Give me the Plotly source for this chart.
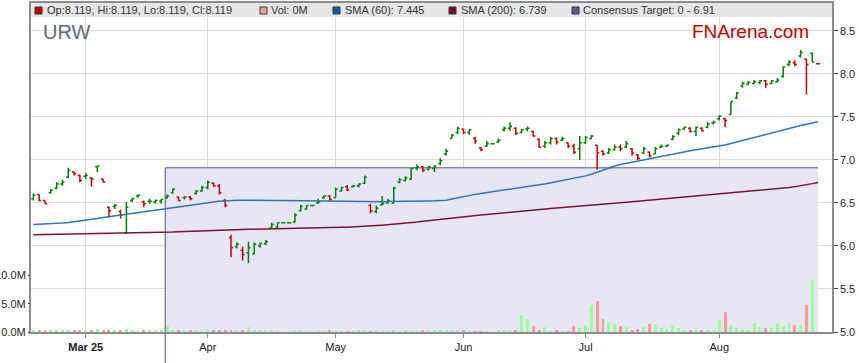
import plotly.graph_objects as go
import pandas as pd

# ---------------- data ----------------
dates = list(pd.bdate_range("2025-02-18", "2025-08-26"))  # weekday sessions shown

opens = [6.55, 6.60, 6.53, 6.62, 6.67, 6.72, 6.80, 6.86, 6.82, 6.81,
         6.79, 6.92, 6.78, 6.45, 6.46, 6.40, 6.15, 6.53, 6.58, 6.51,
         6.52, 6.51, 6.52, 6.56, 6.62, 6.57, 6.56, 6.57, 6.61, 6.64,
         6.68, 6.73, 6.70, 6.53, 6.10, 5.99, 5.95, 5.92, 5.91, 6.00,
         6.03, 6.21, 6.22, 6.27, 6.27, 6.28, 6.41, 6.43, 6.47, 6.50,
         6.56, 6.58, 6.56, 6.64, 6.69, 6.69, 6.70, 6.73, 6.47, 6.40,
         6.48, 6.50, 6.50, 6.74, 6.76, 6.78, 6.91, 6.92, 6.89, 6.90,
         6.96, 7.07, 7.25, 7.32, 7.36, 7.32, 7.25, 7.14, 7.16, 7.19,
         7.21, 7.35, 7.37, 7.37, 7.32, 7.36, 7.33, 7.24, 7.16, 7.20,
         7.25, 7.23, 7.20, 7.16, 7.13, 7.20, 7.25, 7.17, 7.10, 7.08,
         7.12, 7.15, 7.15, 7.13, 7.06, 7.08, 7.09, 7.07, 7.15, 7.16,
         7.24, 7.31, 7.36, 7.37, 7.33, 7.37, 7.38, 7.43, 7.48, 7.48,
         7.53, 7.72, 7.86, 7.88, 7.89, 7.90, 7.92, 7.89, 7.91, 7.97,
         8.11, 8.13, 8.21, 8.17, 8.24, 8.119]

highs = [6.61, 6.60, 6.53, 6.66, 6.74, 6.77, 6.91, 6.87, 6.83, 6.85,
         6.80, 6.93, 6.78, 6.46, 6.49, 6.42, 6.51, 6.56, 6.60, 6.53,
         6.55, 6.54, 6.55, 6.60, 6.67, 6.57, 6.58, 6.58, 6.65, 6.70,
         6.76, 6.74, 6.72, 6.55, 6.13, 6.04, 5.99, 6.05, 6.04, 6.04,
         6.07, 6.27, 6.27, 6.27, 6.27, 6.38, 6.48, 6.47, 6.47, 6.55,
         6.59, 6.59, 6.68, 6.69, 6.71, 6.71, 6.73, 6.82, 6.49, 6.47,
         6.58, 6.55, 6.69, 6.79, 6.81, 6.91, 6.95, 6.93, 6.93, 6.94,
         7.02, 7.13, 7.30, 7.39, 7.36, 7.36, 7.27, 7.15, 7.22, 7.19,
         7.25, 7.39, 7.44, 7.38, 7.36, 7.39, 7.34, 7.25, 7.22, 7.27,
         7.26, 7.27, 7.20, 7.19, 7.28, 7.28, 7.29, 7.17, 7.11, 7.14,
         7.18, 7.18, 7.22, 7.14, 7.07, 7.15, 7.10, 7.15, 7.18, 7.18,
         7.29, 7.37, 7.39, 7.38, 7.39, 7.38, 7.44, 7.46, 7.52, 7.49,
         7.68, 7.79, 7.91, 7.92, 7.93, 7.93, 7.93, 7.93, 7.95, 8.09,
         8.16, 8.16, 8.28, 8.18, 8.25, 8.119]

lows = [6.53, 6.52, 6.49, 6.61, 6.66, 6.70, 6.79, 6.82, 6.74, 6.78,
        6.69, 6.86, 6.74, 6.33, 6.43, 6.32, 6.14, 6.51, 6.56, 6.45,
        6.49, 6.49, 6.49, 6.55, 6.61, 6.52, 6.54, 6.53, 6.60, 6.63,
        6.66, 6.69, 6.60, 6.45, 5.87, 5.97, 5.83, 5.80, 5.90, 5.98,
        6.01, 6.21, 6.21, 6.27, 6.27, 6.27, 6.40, 6.42, 6.47, 6.49,
        6.55, 6.53, 6.56, 6.63, 6.64, 6.68, 6.68, 6.72, 6.38, 6.38,
        6.47, 6.49, 6.49, 6.73, 6.75, 6.77, 6.88, 6.86, 6.88, 6.86,
        6.94, 7.05, 7.25, 7.30, 7.30, 7.29, 7.19, 7.10, 7.15, 7.19,
        7.20, 7.33, 7.34, 7.29, 7.31, 7.33, 7.27, 7.14, 7.14, 7.18,
        7.18, 7.22, 7.14, 7.07, 7.00, 7.19, 7.24, 6.89, 7.05, 7.07,
        7.11, 7.10, 7.14, 7.05, 7.00, 7.07, 7.03, 7.07, 7.14, 7.15,
        7.23, 7.29, 7.35, 7.32, 7.28, 7.33, 7.37, 7.41, 7.46, 7.38,
        7.53, 7.71, 7.84, 7.87, 7.88, 7.88, 7.84, 7.88, 7.90, 7.96,
        8.09, 8.09, 8.19, 7.76, 8.14, 8.119]

closes = [6.59, 6.53, 6.49, 6.65, 6.72, 6.74, 6.88, 6.84, 6.76, 6.82,
          6.78, 6.93, 6.74, 6.41, 6.47, 6.36, 6.45, 6.55, 6.59, 6.49,
          6.52, 6.53, 6.54, 6.58, 6.66, 6.53, 6.57, 6.55, 6.64, 6.68,
          6.74, 6.70, 6.62, 6.47, 5.98, 6.02, 5.90, 5.98, 6.02, 6.03,
          6.05, 6.25, 6.27, 6.27, 6.27, 6.36, 6.46, 6.47, 6.47, 6.51,
          6.58, 6.54, 6.66, 6.68, 6.65, 6.70, 6.72, 6.80, 6.41, 6.44,
          6.49, 6.53, 6.67, 6.77, 6.79, 6.90, 6.92, 6.88, 6.92, 6.93,
          6.99, 7.10, 7.29, 7.37, 7.32, 7.35, 7.22, 7.12, 7.19, 7.19,
          7.23, 7.37, 7.39, 7.31, 7.35, 7.37, 7.28, 7.15, 7.20, 7.25,
          7.21, 7.25, 7.16, 7.09, 7.20, 7.26, 7.28, 7.08, 7.07, 7.12,
          7.15, 7.13, 7.19, 7.08, 7.02, 7.13, 7.05, 7.13, 7.16, 7.17,
          7.27, 7.35, 7.38, 7.33, 7.38, 7.34, 7.42, 7.44, 7.51, 7.46,
          7.68, 7.78, 7.89, 7.90, 7.91, 7.92, 7.88, 7.92, 7.93, 8.08,
          8.14, 8.11, 8.25, 8.11, 8.14, 8.119]

volumes_m = [0.18, 0.35, 0.18, 0.18, 0.18, 0.18, 0.35, 0.18, 0.35, 0.18,
             0.18, 0.53, 0.18, 0.18, 0.18, 0.35, 0.53, 0.35, 0.18, 0.18,
             0.18, 0.18, 0.18, 1.07, 0.18, 0.18, 0.18, 0.18, 0.18, 0.18,
             0.53, 0.18, 0.18, 0.18, 0.35, 0.35, 0.18, 0.83, 0.18, 0.18,
             0.18, 0.18, 0.10, 0.00, 0.00, 0.18, 0.18, 0.10, 0.00, 0.18,
             0.10, 0.18, 0.12, 0.10, 0.10, 0.10, 0.18, 0.18, 0.10, 0.18,
             0.10, 0.10, 0.18, 0.10, 0.18, 0.10, 0.18, 0.18, 0.18, 0.18,
             0.35, 0.18, 0.18, 0.35, 0.18, 0.12, 0.10, 0.10, 0.12, 0.00,
             0.30, 0.18, 0.18, 0.18, 3.00, 2.30, 1.07, 0.25, 0.90, 0.10,
             0.18, 0.10, 0.10, 1.07, 0.70, 1.20, 4.85, 5.44, 2.30, 1.83,
             1.42, 1.07, 0.95, 0.30, 0.47, 0.95, 1.42, 1.18, 0.65, 0.47,
             1.18, 0.65, 0.30, 0.30, 0.65, 0.30, 0.30, 0.30, 2.07, 3.55,
             1.18, 0.65, 0.47, 0.30, 1.54, 0.95, 0.65, 0.65, 1.54, 1.12,
             1.78, 1.24, 1.24, 4.79, 9.20, 0.00]

sma60 = [6.250, 6.252, 6.255, 6.258, 6.262, 6.266, 6.272, 6.280, 6.290, 6.300,
         6.310, 6.320, 6.330, 6.340, 6.350, 6.360, 6.370, 6.380, 6.390, 6.400,
         6.410, 6.420, 6.430, 6.440, 6.450, 6.458, 6.466, 6.474, 6.482, 6.492,
         6.502, 6.512, 6.520, 6.526, 6.530, 6.532, 6.533, 6.534, 6.534, 6.533,
         6.532, 6.531, 6.530, 6.530, 6.529, 6.528, 6.526, 6.524, 6.522, 6.520,
         6.518, 6.517, 6.516, 6.515, 6.515, 6.515, 6.515, 6.515, 6.515, 6.515,
         6.515, 6.516, 6.516, 6.517, 6.518, 6.519, 6.520, 6.521, 6.523, 6.525,
         6.528, 6.532, 6.545, 6.560, 6.575, 6.588, 6.600, 6.611, 6.622, 6.632,
         6.642, 6.652, 6.662, 6.672, 6.682, 6.692, 6.702, 6.712, 6.722, 6.735,
         6.748, 6.760, 6.772, 6.784, 6.798, 6.815, 6.835, 6.860, 6.885, 6.910,
         6.930, 6.948, 6.962, 6.975, 6.988, 7.000, 7.015, 7.030, 7.045, 7.060,
         7.072, 7.084, 7.096, 7.108, 7.118, 7.128, 7.138, 7.148, 7.160, 7.175,
         7.192, 7.210, 7.228, 7.246, 7.264, 7.282, 7.300, 7.318, 7.335, 7.352,
         7.368, 7.384, 7.400, 7.415, 7.430, 7.445]

sma200 = [6.130, 6.131, 6.132, 6.133, 6.134, 6.135, 6.136, 6.137, 6.138, 6.139,
          6.140, 6.141, 6.142, 6.143, 6.144, 6.145, 6.146, 6.148, 6.150, 6.152,
          6.154, 6.156, 6.158, 6.160, 6.163, 6.166, 6.169, 6.172, 6.175, 6.178,
          6.181, 6.184, 6.187, 6.189, 6.191, 6.192, 6.193, 6.194, 6.195, 6.196,
          6.197, 6.198, 6.199, 6.200, 6.201, 6.202, 6.203, 6.205, 6.207, 6.209,
          6.211, 6.213, 6.215, 6.217, 6.219, 6.221, 6.224, 6.228, 6.232, 6.237,
          6.242, 6.247, 6.252, 6.258, 6.265, 6.272, 6.280, 6.288, 6.296, 6.304,
          6.311, 6.318, 6.325, 6.332, 6.339, 6.346, 6.353, 6.360, 6.367, 6.374,
          6.381, 6.388, 6.395, 6.402, 6.409, 6.416, 6.421, 6.426, 6.431, 6.436,
          6.441, 6.446, 6.451, 6.456, 6.460, 6.466, 6.472, 6.478, 6.484, 6.490,
          6.496, 6.502, 6.508, 6.514, 6.520, 6.526, 6.532, 6.538, 6.544, 6.550,
          6.556, 6.562, 6.568, 6.574, 6.580, 6.586, 6.592, 6.598, 6.604, 6.610,
          6.616, 6.622, 6.628, 6.634, 6.640, 6.646, 6.652, 6.656, 6.660, 6.670,
          6.680, 6.690, 6.700, 6.712, 6.725, 6.739]

ticker = "URW"
target_low = 0
target_high = 6.91
target_start = 22.7      # session position where the consensus band begins

# ---------------- derived ----------------
n = len(closes)
idx = list(range(n))
up = [closes[0] >= opens[0]] + [closes[i] >= closes[i - 1] for i in range(1, n)]

tick_idx, tick_txt = [], []
for i in range(1, n):
    if dates[i].month != dates[i - 1].month:
        if not tick_idx:
            tick_txt.append("<b>" + dates[i].strftime("%b %y") + "</b>")
        else:
            tick_txt.append(dates[i].strftime("%b"))
        tick_idx.append(i)

# ---------------- layout constants ----------------
W, H = 859, 363
ML, MR, MT, MB = 31, 27, 3, 31
PW, PH = W - ML - MR, H - MT - MB
X_RANGE = [-0.41, 137.4]
Y_RANGE = [5.0, 8.825]
V_RANGE = [0, 58.3e6]
FONT = "Arial, 'Liberation Sans', sans-serif"

GREEN, RED = "#008000", "#cc0000"
VGREEN, VRED = "#99ff99", "#ff9999"
BLUE, MAROON = "#2f74b5", "#7d1436"


def px(x):
    return (x - ML) / PW


def py(y):
    return (H - MB - y) / PH


fig = go.Figure()

fig.add_trace(go.Scatter(x=idx, y=sma200, mode="lines",
                         line=dict(color=MAROON, width=1.5), hoverinfo="skip"))
fig.add_trace(go.Scatter(x=idx, y=sma60, mode="lines",
                         line=dict(color=BLUE, width=1.5), hoverinfo="skip"))

for flag, col in ((True, GREEN), (False, RED)):
    sel = [i for i in idx if up[i] == flag]
    fig.add_trace(go.Ohlc(
        x=sel,
        open=[opens[i] for i in sel], high=[highs[i] for i in sel],
        low=[lows[i] for i in sel], close=[closes[i] for i in sel],
        increasing=dict(line=dict(color=col, width=1.5)),
        decreasing=dict(line=dict(color=col, width=1.5)),
        tickwidth=0.36, hoverinfo="skip"))

fig.add_trace(go.Bar(
    x=idx, y=[v * 1e6 for v in volumes_m], yaxis="y2", width=0.5,
    marker=dict(color=[VGREEN if u else VRED for u in up], line=dict(width=0)),
    hoverinfo="skip"))

shapes = [
    dict(type="rect", xref="x", yref="y", x0=target_start, x1=n - 1,
         y0=target_low, y1=target_high, fillcolor="#e6e6f5",
         line=dict(width=0), layer="between"),
    dict(type="line", xref="x", yref="y", x0=target_start, x1=n - 1,
         y0=target_high, y1=target_high, line=dict(color="#8282aa", width=1.5),
         layer="between"),
    dict(type="line", xref="x", yref="y", x0=target_start, x1=target_start,
         y0=target_low, y1=target_high, line=dict(color="#8282aa", width=1.5),
         layer="between"),
    dict(type="line", xref="x", yref="paper", x0=target_start, x1=target_start,
         y0=-0.2, y1=0, line=dict(color="#8282aa", width=1.5), layer="above"),
    # legend band
    dict(type="rect", xref="paper", yref="paper", x0=0, x1=1,
         y0=py(17), y1=1, fillcolor="#e6e6e6", line=dict(width=0), layer="above"),
]

legend_items = [
    (35, "#cc0000", f"Op:{opens[-1]}, Hi:{highs[-1]}, Lo:{lows[-1]}, Cl:{closes[-1]}", 45),
    (260, "#ff9999", f"Vol: {volumes_m[-1]:.0f}M", 269),
    (333, "#1060a8", f"SMA (60): {sma60[-1]:.3f}", 343),
    (449, "#7a0a2a", f"SMA (200): {sma200[-1]:.3f}", 459),
    (572, "#5e5e96", f"Consensus Target: {target_low} - {target_high}", 581),
]

annotations = []
for sx, col, txt, tx in legend_items:
    shapes.append(dict(type="rect", xref="paper", yref="paper",
                       x0=px(sx), x1=px(sx + 7), y0=py(14), y1=py(7),
                       fillcolor=col, line=dict(color="#333333", width=1),
                       layer="above"))
    annotations.append(dict(xref="paper", yref="paper", x=px(tx), y=py(10.5),
                            xanchor="left", yanchor="middle", showarrow=False,
                            text=txt, font=dict(family=FONT, size=11, color="#333333")))

annotations.append(dict(xref="paper", yref="paper", x=px(41), y=py(32),
                        xanchor="left", yanchor="middle", showarrow=False,
                        text=ticker, font=dict(family=FONT, size=20, color="#5c6a7c")))
annotations.append(dict(xref="paper", yref="paper", x=px(690), y=py(32),
                        xanchor="left", yanchor="middle", showarrow=False,
                        text="FNArena.com", font=dict(family=FONT, size=19, color="#c40000")))

axis_line = "#8c8c8c"
grid = "#dcdcdc"

fig.update_layout(
    width=W, height=H,
    margin=dict(l=ML, r=MR, t=MT, b=MB, pad=0, autoexpand=False),
    paper_bgcolor="white", plot_bgcolor="white",
    showlegend=False,
    font=dict(family=FONT, size=11, color="#222222"),
    shapes=shapes, annotations=annotations,
    bargap=0,
    xaxis=dict(range=X_RANGE, tickmode="array", tickvals=tick_idx, ticktext=tick_txt,
               ticks="outside", ticklen=4, tickcolor=axis_line, automargin=False,
               showgrid=True, gridcolor=grid, gridwidth=1,
               showline=True, linecolor=axis_line, linewidth=1.5, mirror=True,
               zeroline=False, rangeslider=dict(visible=False),
               tickfont=dict(family=FONT, size=11, color="#222222")),
    yaxis=dict(range=Y_RANGE, side="right", tick0=5.0, dtick=0.5, tickformat=".1f",
               ticks="outside", ticklen=4, tickcolor="#444444", automargin=False,
               showgrid=True, gridcolor=grid, gridwidth=1,
               showline=True, linecolor=axis_line, linewidth=1.5, mirror=True,
               zeroline=False,
               tickfont=dict(family=FONT, size=11, color="#222222")),
    yaxis2=dict(range=V_RANGE, overlaying="y", side="left", automargin=False,
                tickmode="array", tickvals=[0, 5e6, 10e6],
                ticktext=[f"{v / 1e6:.1f}M" for v in (0, 5e6, 10e6)],
                ticks="outside", ticklen=2, tickcolor="#444444",
                showgrid=False, showline=False, zeroline=False,
                tickfont=dict(family=FONT, size=11, color="#222222")),
)

fig.write_html("out.html", config={"displayModeBar": False},
               post_script="document.body.style.margin='0px';document.body.style.padding='0px';")
